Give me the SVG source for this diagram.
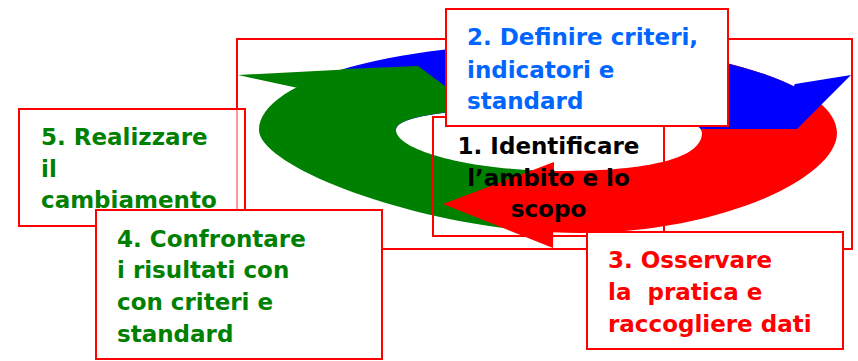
<svg xmlns="http://www.w3.org/2000/svg" width="858" height="361" viewBox="0 0 858 361">
<style>
.box{fill:#ffffff;stroke:#ff0000;stroke-width:2}
.t{font-family:"DejaVu Sans","Verdana",sans-serif;font-weight:bold;font-size:23px}
</style>
<defs>
<path id="ring" fill-rule="evenodd" d="M259,130 C259,82 388,44 548,44 C707,44 837,84 837,133 C837,178 720,233 580,233 C430,233 259,168 259,130 Z M396,130 C396,114 470,108 549,108 C640,108 702,116 702,133 C702,158 650,171 560,171 C470,171 396,150 396,130 Z"/>
<clipPath id="cRed"><rect x="553" y="0" width="305" height="361"/></clipPath>
<clipPath id="cBlue"><rect x="300" y="0" width="497" height="129"/></clipPath>
<clipPath id="cGreen"><polygon points="200,75 418,66 480,112 545,150 545,260 200,260"/></clipPath>
</defs>
<rect id="frame" x="237" y="39" width="615" height="210" fill="none" stroke="#ff0000" stroke-width="2"/>
<g id="connectors">
<use href="#ring" fill="#ff0000" clip-path="url(#cRed)"/>
<use href="#ring" fill="#0000ff" clip-path="url(#cBlue)"/>
<polygon points="795,84 851,75 797,129 780,110" fill="#0000ff"/>
<use href="#ring" fill="#008000" clip-path="url(#cGreen)"/>
<polygon points="238,75 345,69.4 320,80 298,88" fill="#008000"/>
<polygon points="443,204 554,162 553,248" fill="#ff0000"/>
</g>
<g id="node1">
<rect x="433" y="117" width="231" height="119" fill="none" stroke="#ff0000" stroke-width="2"/>
<text class="t" fill="#000000" text-anchor="middle"><tspan x="548.5" y="154">1. Identificare</tspan><tspan x="548.5" y="186">l’ambito e lo</tspan><tspan x="548.5" y="217">scopo</tspan></text>
</g>
<g id="node2">
<rect class="box" x="446" y="9" width="282" height="117"/>
<text class="t" fill="#0066ff"><tspan x="467" y="45">2. Definire criteri,</tspan><tspan x="467" y="77.5">indicatori e</tspan><tspan x="467" y="109">standard</tspan></text>
</g>
<g id="node5">
<rect x="19" y="109" width="226" height="117" fill="#ffffff" fill-opacity="0.6" stroke="#ff0000" stroke-width="2"/>
<text class="t" fill="#008000"><tspan x="41" y="145">5. Realizzare</tspan><tspan x="41" y="177">il</tspan><tspan x="41" y="208">cambiamento</tspan></text>
</g>
<g id="node4">
<rect class="box" x="96" y="210" width="286" height="149"/>
<text class="t" fill="#008000"><tspan x="117" y="247">4. Confrontare</tspan><tspan x="117" y="278">i risultati con</tspan><tspan x="117" y="310">con criteri e</tspan><tspan x="117" y="342">standard</tspan></text>
</g>
<g id="node3">
<rect class="box" x="587" y="232" width="256" height="117"/>
<text class="t" fill="#ff0000" xml:space="preserve"><tspan x="608" y="268">3. Osservare</tspan><tspan x="608" y="300">la  pratica e</tspan><tspan x="608" y="332">raccogliere dati</tspan></text>
</g>
</svg>
